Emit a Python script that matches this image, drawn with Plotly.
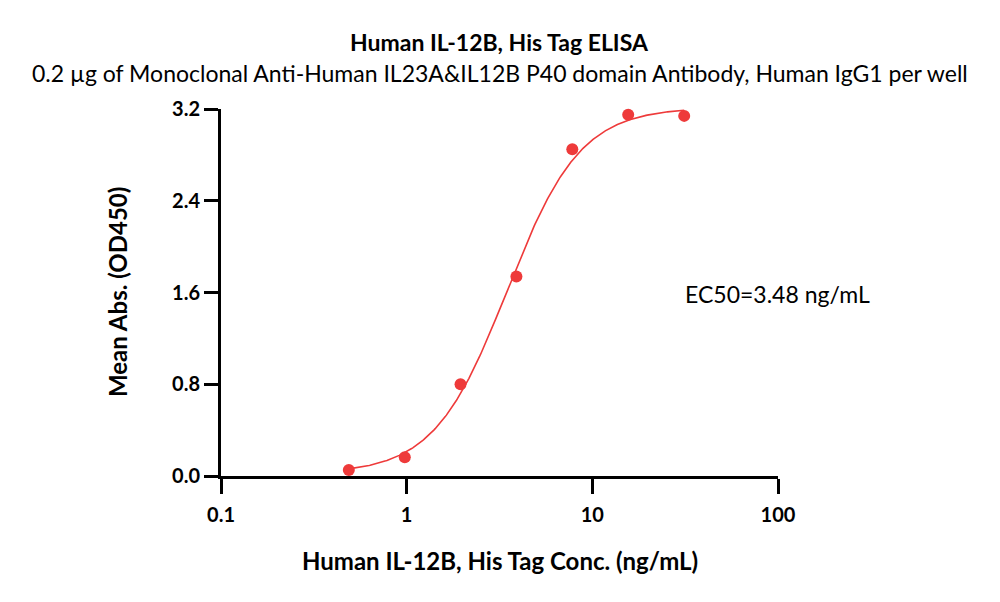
import numpy as np
import plotly.graph_objects as go

# Data
conc = [0.488, 0.977, 1.95, 3.9, 7.8, 15.6, 31.25]
od450 = [0.052, 0.163, 0.80, 1.74, 2.85, 3.15, 3.14]

# 4PL fit parameters (estimated)
fit_bottom = 0.02
fit_top = 3.215
fit_ec50 = 3.48
fit_hill = 2.2

x_ticks = [0.1, 1, 10, 100]
x_tick_text = ["0.1", "1", "10", "100"]
y_ticks = [0.0, 0.8, 1.6, 2.4, 3.2]
y_tick_text = ["0.0", "0.8", "1.6", "2.4", "3.2"]

title = "Human IL-12B, His Tag ELISA"
subtitle = "0.2 \u00b5g of Monoclonal Anti-Human IL23A&IL12B P40 domain Antibody, Human IgG1 per well"
x_title = "Human IL-12B, His Tag Conc. (ng/mL)"
y_title = "Mean Abs. (OD450)"
ec50_text = "EC50=3.48 ng/mL"

red = "#EE3A3A"
font = "Lato, 'Open Sans', sans-serif"

xs = np.logspace(np.log10(conc[0]), np.log10(conc[-1]), 300)
ys = fit_bottom + (fit_top - fit_bottom) / (1 + (fit_ec50 / xs) ** fit_hill)

fig = go.Figure()
fig.add_trace(go.Scatter(x=xs, y=ys, mode="lines", line=dict(color=red, width=1.6),
                         hoverinfo="skip", showlegend=False, cliponaxis=False))
fig.add_trace(go.Scatter(x=conc, y=od450, mode="markers",
                         marker=dict(color=red, size=12), showlegend=False, cliponaxis=False))

L, R, T, B = 221, 222, 109, 126
W, H = 1000, 602
ph = H - T - B
pw = W - L - R

def py(p):
    return (H - B - p) / ph

def px(p):
    return (p - L) / pw

fig.update_layout(
    width=W, height=H,
    margin=dict(l=L, r=R, t=T, b=B),
    paper_bgcolor="white", plot_bgcolor="white",
    font=dict(family=font, color="black"),
    xaxis=dict(type="log", range=[-1, 2], tickvals=x_ticks, ticktext=x_tick_text,
               showgrid=False, zeroline=False, showline=True, linecolor="black", linewidth=3,
               ticks="outside", ticklen=15, tickwidth=3, tickcolor="black",
               tickfont=dict(size=20, family=font, weight="bold"), ticklabelstandoff=4),
    yaxis=dict(range=[0, 3.2], tickvals=y_ticks, ticktext=y_tick_text,
               showgrid=False, zeroline=False, showline=True, linecolor="black", linewidth=3,
               ticks="outside", ticklen=14, tickwidth=3, tickcolor="black",
               tickfont=dict(size=20, family=font, weight="bold")),
    annotations=[
        dict(text="<b>" + title + "</b>", x=0.5, y=py(42), xref="paper", yref="paper",
             showarrow=False, font=dict(size=23, family=font), xanchor="center", yanchor="middle"),
        dict(text=subtitle, x=0.5, y=py(73), xref="paper", yref="paper",
             showarrow=False, font=dict(size=23, family=font), xanchor="center", yanchor="middle"),
        dict(text="<b>" + x_title + "</b>", x=0.5, y=py(560), xref="paper", yref="paper",
             showarrow=False, font=dict(size=24, family=font), xanchor="center", yanchor="middle"),
        dict(text="<b>" + y_title + "</b>", x=px(117), y=py(292), xref="paper", yref="paper",
             showarrow=False, textangle=-90, font=dict(size=24, family=font),
             xanchor="center", yanchor="middle"),
        dict(text=ec50_text, x=px(683), y=py(294), xref="paper", yref="paper",
             showarrow=False, font=dict(size=23, family=font), xanchor="left", yanchor="middle"),
    ],
)

fig.write_html("out.html")
